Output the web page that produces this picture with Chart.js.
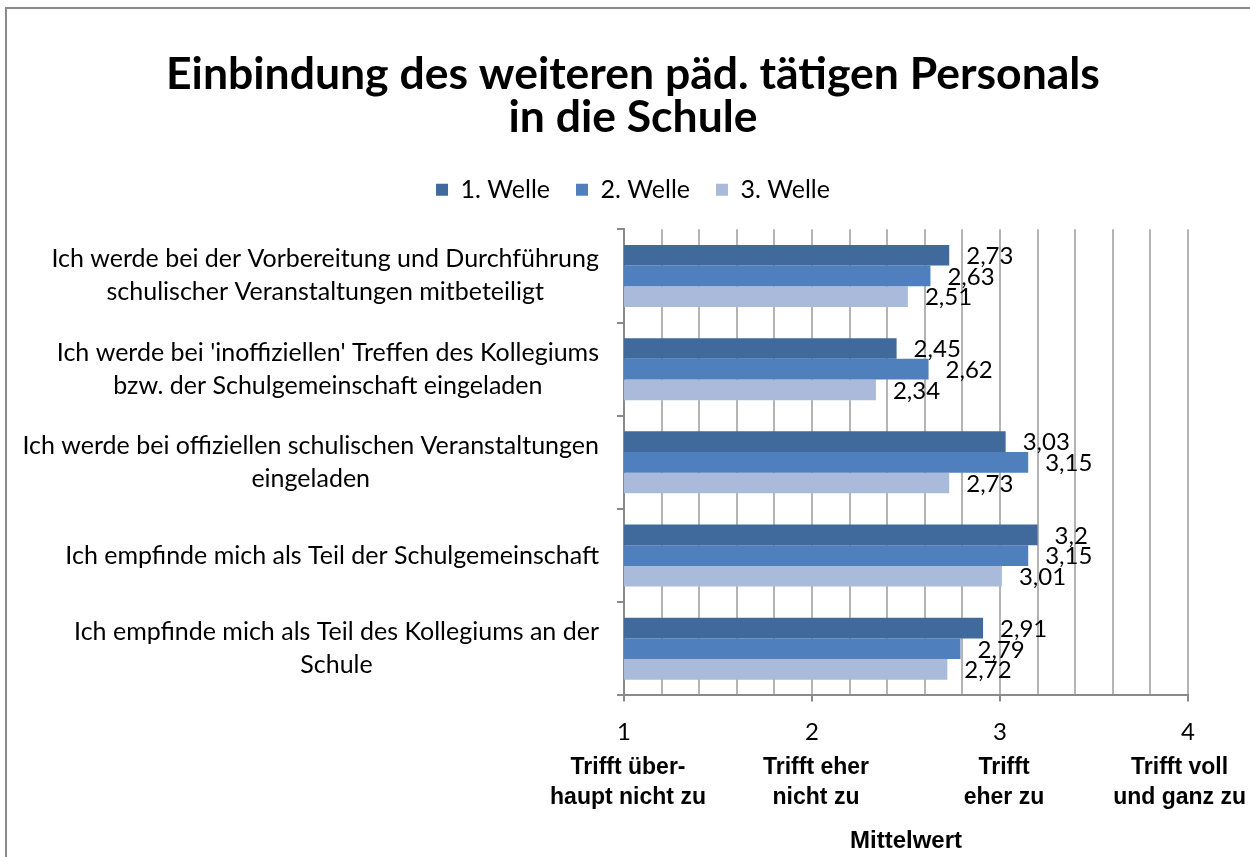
<!DOCTYPE html>
<html>
<head>
<meta charset="utf-8">
<script src="https://cdn.jsdelivr.net/npm/chart.js@4.4.0/dist/chart.umd.min.js"></script>
<style>
  body { margin: 0; background: #fff; overflow: hidden; }
  #rahmen { position: absolute; left: 5px; top: 7px; width: 1270px; height: 900px; border: 2px solid #8a8a8a; }
  #wrap { position: absolute; left: 0; top: 0; width: 1250px; height: 857px; }
</style>
</head>
<body>
<div id="rahmen"></div>
<div id="wrap"><canvas id="grafik" width="1250" height="857"></canvas></div>
<script>
// Daten
const kategorien = [
    ['Ich werde bei der Vorbereitung und Durchführung', 'schulischer Veranstaltungen mitbeteiligt'],
    ["Ich werde bei 'inoffiziellen' Treffen des Kollegiums", 'bzw. der Schulgemeinschaft eingeladen'],
    ['Ich werde bei offiziellen schulischen Veranstaltungen', 'eingeladen'],
    ['Ich empfinde mich als Teil der Schulgemeinschaft'],
    ['Ich empfinde mich als Teil des Kollegiums an der', 'Schule']
];
const welle1 = [2.73, 2.45, 3.03, 3.2, 2.91];
const welle2 = [2.63, 2.62, 3.15, 3.15, 2.79];
const welle3 = [2.51, 2.34, 2.73, 3.01, 2.72];
const serienNamen = ['1. Welle', '2. Welle', '3. Welle'];
const skalaWerte = [1, 2, 3, 4];
const skalaTexte = [
    ['Trifft über-', 'haupt nicht zu'],
    ['Trifft eher', 'nicht zu'],
    ['Trifft', 'eher zu'],
    ['Trifft voll', 'und ganz zu']
];

const schrift = 'Lato, Calibri, sans-serif';
const fett = '"Liberation Sans", Arial, sans-serif';
const farben = ['#406a9c', '#4f80bd', '#aabada'];

function komma(v) {
    return String(v).replace('.', ',');
}

// y-Beschriftungen: Block rechtsbuendig, Zeilen zentriert
const kategorieLabels = {
    id: 'kategorieLabels',
    afterDraw(chart) {
        const ctx = chart.ctx;
        const y = chart.scales.y;
        ctx.save();
        ctx.font = '25px ' + schrift;
        ctx.fillStyle = '#000';
        ctx.textAlign = 'center';
        ctx.textBaseline = 'middle';
        const zeile = 33;
        kategorien.forEach((zeilen, i) => {
            const breite = Math.max(...zeilen.map(z => ctx.measureText(z).width));
            const mitteX = 599 - breite / 2;
            const mitteY = y.getPixelForValue(i);
            zeilen.forEach((z, j) => {
                ctx.fillText(z, mitteX, mitteY + (j - (zeilen.length - 1) / 2) * zeile);
            });
        });
        ctx.restore();
    }
};

// Werte an den Balken
const wertLabels = {
    id: 'wertLabels',
    afterDatasetsDraw(chart) {
        const ctx = chart.ctx;
        ctx.save();
        ctx.font = '24px ' + schrift;
        ctx.fillStyle = '#000';
        ctx.textAlign = 'left';
        ctx.textBaseline = 'middle';
        chart.data.datasets.forEach((ds, d) => {
            chart.getDatasetMeta(d).data.forEach((bar, i) => {
                ctx.fillText(komma(ds.data[i]), bar.x + 17, bar.y + 1);
            });
        });
        ctx.restore();
    }
};

// verbale Skalenbeschriftung unter den Zahlen
const skalaLabels = {
    id: 'skalaLabels',
    afterDraw(chart) {
        const ctx = chart.ctx;
        const x = chart.scales.x;
        ctx.save();
        ctx.font = 'bold 23px ' + fett;
        ctx.fillStyle = '#000';
        ctx.textAlign = 'center';
        ctx.textBaseline = 'middle';
        skalaWerte.forEach((v, i) => {
            const zeilen = skalaTexte[i];
            const breite = Math.max(...zeilen.map(z => ctx.measureText(z).width));
            let px = x.getPixelForValue(v) + 4;
            px = Math.min(px, chart.width - 4 - breite / 2);
            zeilen.forEach((z, j) => ctx.fillText(z, px, 768 + j * 30));
        });
        ctx.restore();
    }
};

const legendAbstand = {
    id: 'legendAbstand',
    beforeInit(chart) {
        const fit = chart.legend.fit;
        chart.legend.fit = function () {
            fit.bind(chart.legend)();
            this.height += 17;
        };
    }
};

new Chart(document.getElementById('grafik').getContext('2d'), {
    type: 'bar',
    data: {
        labels: kategorien,
        datasets: [
            { label: serienNamen[0], data: welle1, backgroundColor: farben[0] },
            { label: serienNamen[1], data: welle2, backgroundColor: farben[1] },
            { label: serienNamen[2], data: welle3, backgroundColor: farben[2] }
        ]
    },
    options: {
        indexAxis: 'y',
        responsive: false,
        animation: false,
        categoryPercentage: 0.665,
        barPercentage: 1.0,
        layout: { padding: { left: 78, right: 62, top: 0, bottom: 1 } },
        plugins: {
            title: {
                display: true,
                text: ['Einbindung des weiteren päd. tätigen Personals', 'in die Schule'],
                font: { family: schrift, size: 44.5, weight: 'bold', lineHeight: 0.97 },
                color: '#000',
                padding: { top: 53, bottom: 12 }
            },
            legend: {
                position: 'top',
                labels: {
                    boxWidth: 12,
                    boxHeight: 12,
                    padding: 26,
                    color: '#000',
                    font: { family: schrift, size: 25 }
                }
            },
            tooltip: { enabled: false }
        },
        scales: {
            x: {
                min: 1,
                max: 4,
                ticks: {
                    stepSize: 0.2,
                    autoSkip: false,
                    maxRotation: 0,
                    color: '#000',
                    padding: 16,
                    font: { family: schrift, size: 24 },
                    callback: v => (Math.abs(v - Math.round(v)) < 1e-6 ? String(Math.round(v)) : '')
                },
                grid: {
                    color: '#b4b4b4',
                    lineWidth: 2,
                    tickLength: 6,
                    tickColor: c => (c.tick && Math.abs(c.tick.value - Math.round(c.tick.value)) < 1e-6 ? '#8a8a8a' : 'rgba(0,0,0,0)')
                },
                border: { color: '#8a8a8a', width: 2 },
                title: {
                    display: true,
                    text: 'Mittelwert',
                    color: '#000',
                    font: { family: fett, size: 24, weight: 'bold' },
                    padding: { top: 65, bottom: 0 }
                }
            },
            y: {
                afterFit: s => { s.width = 624 - 78; },
                ticks: { display: false },
                grid: { drawOnChartArea: false, tickLength: 7, color: '#8a8a8a', lineWidth: 2 },
                border: { color: '#8a8a8a', width: 2 }
            }
        }
    },
    plugins: [kategorieLabels, wertLabels, skalaLabels, legendAbstand]
});
</script>
</body>
</html>
